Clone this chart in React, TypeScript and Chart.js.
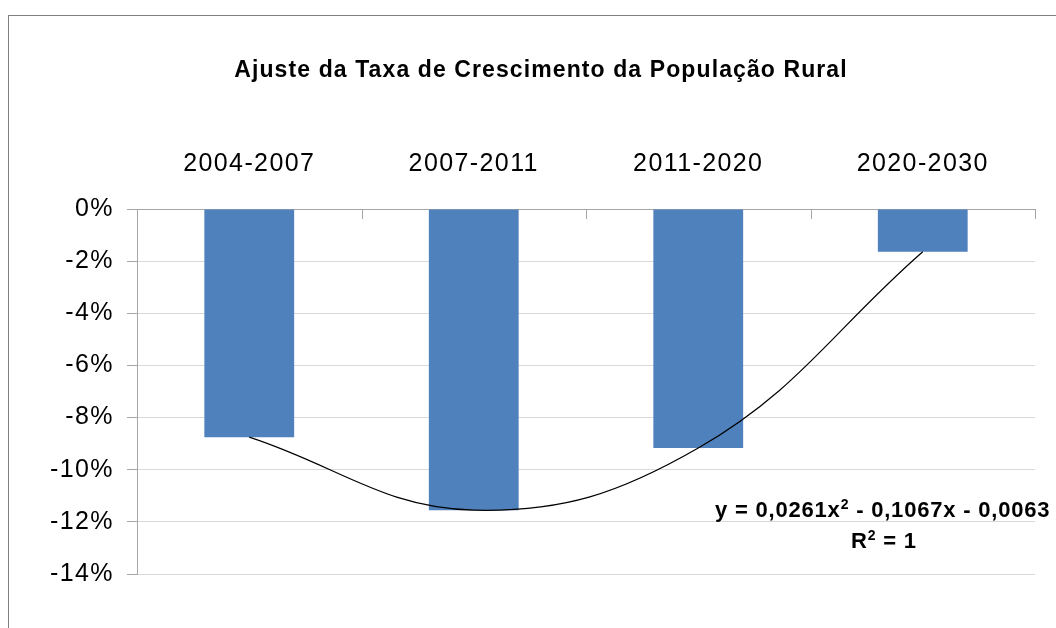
import React, { useEffect, useRef } from "react";
import { Chart, registerables } from "chart.js";

Chart.register(...registerables);

const TITLE = "Ajuste da Taxa de Crescimento da População Rural";
const categories = ["2004-2007", "2007-2011", "2011-2020", "2020-2030"];
const growthRates = [-8.75, -11.55, -9.17, -1.64];
const yTicks = { min: -14, max: 0, step: 2 };
const equationParts = ["y = 0,0261x", "2", " - 0,1067x - 0,0063"];
const r2Parts = ["R", "2", " = 1"];

const FONT = "'Liberation Sans', Arial, sans-serif";

export default function App() {
  const ref = useRef<HTMLCanvasElement | null>(null);

  useEffect(() => {
    if (!ref.current) return;

    const spacingPlugin = {
      id: "spacing",
      beforeDraw(chart: any) {
        (chart.ctx as any).letterSpacing = "1.4px";
      },
      afterDraw(chart: any) {
        const ctx = chart.ctx as any;
        const xs = chart.scales.x;
        const area = chart.chartArea;
        // inside tick marks on category axis
        ctx.save();
        ctx.strokeStyle = "#A6A6A6";
        ctx.lineWidth = 1;
        for (let i = 0; i <= categories.length; i++) {
          const px = Math.round(xs.getPixelForValue(i - 0.5)) + 0.5;
          ctx.beginPath();
          ctx.moveTo(px, area.top);
          ctx.lineTo(px, area.top + 10);
          ctx.stroke();
        }
        ctx.restore();

        // title
        ctx.save();
        ctx.letterSpacing = "1.1px";
        ctx.font = `bold 23px ${FONT}`;
        ctx.fillStyle = "#000";
        ctx.textAlign = "center";
        ctx.textBaseline = "alphabetic";
        ctx.fillText(TITLE, 541, 77);
        ctx.restore();

        // trendline equation
        const drawParts = (parts: string[], x: number, y: number, align: string) => {
          ctx.save();
          ctx.letterSpacing = "0.8px";
          ctx.fillStyle = "#000";
          ctx.textBaseline = "alphabetic";
          ctx.textAlign = "left";
          const big = `bold 22px ${FONT}`;
          const small = `bold 14px ${FONT}`;
          const widths = parts.map((p, i) => {
            ctx.font = i === 1 ? small : big;
            return ctx.measureText(p).width;
          });
          const total = widths.reduce((a, b) => a + b, 0);
          let cx = align === "center" ? x - total / 2 : x;
          parts.forEach((p, i) => {
            ctx.font = i === 1 ? small : big;
            ctx.fillText(p, cx, i === 1 ? y - 8 : y);
            cx += widths[i];
          });
          ctx.restore();
        };
        drawParts(equationParts, 715, 517, "left");
        drawParts(r2Parts, 884, 548, "center");

        ctx.letterSpacing = "0px";
      },
    };

    const chart = new Chart(ref.current, {
      type: "bar",
      data: {
        labels: categories,
        datasets: [
          {
            type: "line",
            data: growthRates,
            borderColor: "#000000",
            borderWidth: 1.2,
            pointRadius: 0,
            tension: 0.4,
            fill: false,
            order: 0,
          } as any,
          {
            type: "bar",
            data: growthRates,
            backgroundColor: "#4F81BD",
            barPercentage: 0.4,
            categoryPercentage: 1.0,
            order: 1,
          },
        ],
      },
      options: {
        animation: false,
        responsive: false,
        maintainAspectRatio: false,
        layout: { padding: { left: 46, right: 21, top: 0, bottom: 54 } },
        plugins: {
          legend: { display: false },
          tooltip: { enabled: false },
          title: { display: false },
        },
        scales: {
          x: {
            position: "top",
            offset: true,
            grid: { display: false, drawTicks: false },
            border: { display: true, color: "#A6A6A6", width: 1 },
            ticks: {
              color: "#000",
              font: { family: FONT, size: 25 },
              padding: 30,
              maxRotation: 0,
            },
            afterFit(scale: any) {
              scale.height = 209;
            },
          },
          y: {
            min: yTicks.min,
            max: yTicks.max,
            grid: {
              color: "#D9D9D9",
              tickColor: "#A6A6A6",
              tickLength: 10,
              drawTicks: true,
            },
            border: { display: true, color: "#A6A6A6", width: 1 },
            ticks: {
              stepSize: yTicks.step,
              color: "#000",
              font: { family: FONT, size: 25 },
              padding: 13,
              callback: (v: any) => `${v}%`,
            },
            afterFit(scale: any) {
              scale.width = 91;
            },
          },
        },
      } as any,
      plugins: [spacingPlugin],
    });

    return () => chart.destroy();
  }, []);

  return (
    <div
      style={{
        position: "fixed",
        left: 0,
        top: 0,
        width: 1056,
        height: 628,
        overflow: "hidden",
        background: "#fff",
      }}
    >
      <div
        style={{
          position: "absolute",
          left: 8,
          top: 15,
          width: 1100,
          height: 700,
          border: "1px solid #808080",
        }}
      />
      <canvas
        ref={ref}
        width={1056}
        height={628}
        style={{ position: "absolute", left: 0, top: 0, width: 1056, height: 628 }}
      />
    </div>
  );
}
